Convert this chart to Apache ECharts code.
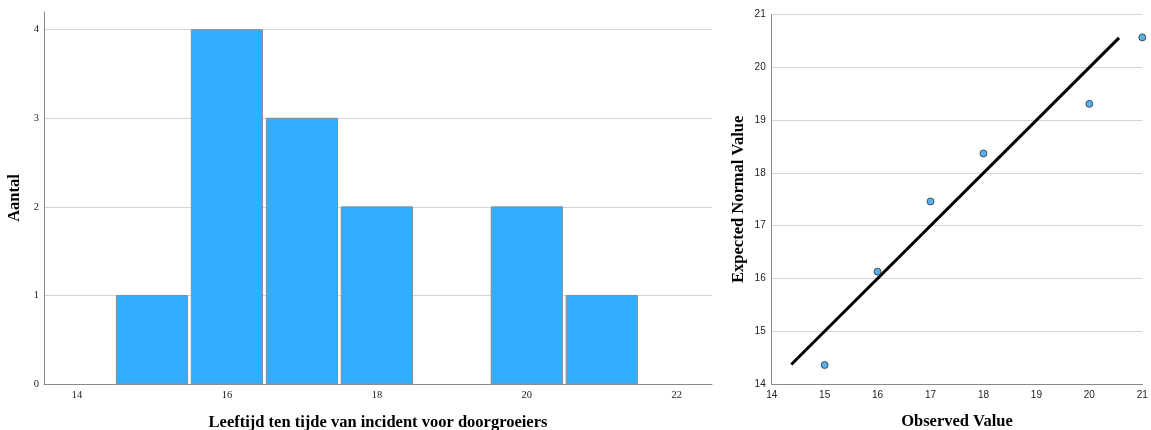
<!DOCTYPE html>
<html><head><meta charset="utf-8">
<script src="https://cdn.jsdelivr.net/npm/echarts@6/dist/echarts.min.js"></script>
<style>html,body{margin:0;padding:0;background:#fff}#c{width:1151px;height:430px}</style>
</head><body><div id="c"></div>
<script>
// Histogram data
const ages = [15, 16, 17, 18, 19, 20, 21];
const counts = [1, 4, 3, 2, 0, 2, 1];
const histXTicks = [14, 16, 18, 20, 22];
// Q-Q plot data
const observed = [15, 16, 17, 18, 20, 21];
const expected = [14.36, 16.13, 17.46, 18.37, 19.31, 20.57];
const refLine = [14.37, 20.56];

const histData = ages.map((a, i) => [a, counts[i]]).filter(d => d[1] > 0);
const qqData = observed.map((o, i) => [o, expected[i]]);

const chart = echarts.init(document.getElementById('c'), null, {renderer: 'canvas'});
const serif = 'Liberation Serif';
const sans = 'Liberation Sans';
const axisGray = '#8a8a8a';
const gridGray = '#d4d4d4';
const titleStyle = {fontFamily: serif, fontWeight: 'bold', fontSize: 16.5, color: '#000'};

chart.setOption({
  animation: false,
  backgroundColor: '#fff',
  grid: [
    {left: 44, top: 12, width: 668, height: 372, outerBoundsMode: 'none', containLabel: false},
    {left: 771.7, top: 14.7, width: 370.6, height: 369.3, outerBoundsMode: 'none', containLabel: false}
  ],
  xAxis: [
    {
      gridIndex: 0, type: 'value', min: 13.56, max: 22.47,
      name: 'Leeftijd ten tijde van incident voor doorgroeiers',
      nameLocation: 'middle', nameGap: 30,
      nameTextStyle: titleStyle,
      axisLine: {lineStyle: {color: axisGray, width: 1}},
      axisTick: {show: false},
      splitLine: {show: false},
      axisLabel: {customValues: histXTicks, fontFamily: serif, fontSize: 10.5, color: '#222', margin: 6}
    },
    {
      gridIndex: 1, type: 'value', min: 14, max: 21, interval: 1,
      name: 'Observed Value',
      nameLocation: 'middle', nameGap: 29,
      nameTextStyle: titleStyle,
      axisLine: {lineStyle: {color: axisGray, width: 1}},
      axisTick: {show: false},
      splitLine: {show: false},
      axisLabel: {fontFamily: sans, fontSize: 10, color: '#222', margin: 6}
    }
  ],
  yAxis: [
    {
      gridIndex: 0, type: 'value', min: 0, max: 4.2, interval: 1,
      name: 'Aantal', nameLocation: 'middle', nameGap: 19, nameRotate: 90,
      nameTextStyle: titleStyle,
      axisLine: {show: true, lineStyle: {color: axisGray, width: 1}},
      axisTick: {show: false},
      splitLine: {show: true, showMaxLine: false, lineStyle: {color: gridGray, width: 1}},
      axisLabel: {showMaxLabel: false, fontFamily: serif, fontSize: 10.5, color: '#222', margin: 5}
    },
    {
      gridIndex: 1, type: 'value', min: 14, max: 21, interval: 1,
      name: 'Expected Normal Value', nameLocation: 'middle', nameGap: 24, nameRotate: 90,
      nameTextStyle: titleStyle,
      axisLine: {show: true, lineStyle: {color: axisGray, width: 1}},
      axisTick: {show: false},
      splitLine: {show: true, lineStyle: {color: gridGray, width: 1}},
      axisLabel: {fontFamily: sans, fontSize: 10, color: '#222', margin: 6}
    }
  ],
  series: [
    {
      type: 'custom', xAxisIndex: 0, yAxisIndex: 0,
      data: histData,
      renderItem: function (params, api) {
        const x = api.value(0), y = api.value(1);
        const p0 = api.coord([x - 0.475, y]);
        const p1 = api.coord([x + 0.475, 0]);
        return {
          type: 'rect',
          shape: {x: p0[0], y: p0[1], width: p1[0] - p0[0], height: p1[1] - p0[1]},
          style: {fill: '#33adff', stroke: '#8c8c8c', lineWidth: 1}
        };
      }
    },
    {
      type: 'line', xAxisIndex: 1, yAxisIndex: 1,
      data: [[refLine[0], refLine[0]], [refLine[1], refLine[1]]],
      symbol: 'none',
      lineStyle: {color: '#000', width: 3},
      z: 2
    },
    {
      type: 'scatter', xAxisIndex: 1, yAxisIndex: 1,
      data: qqData,
      symbol: 'circle', symbolSize: 7,
      itemStyle: {color: '#2a9ce8', borderColor: '#333', borderWidth: 1},
      z: 3
    }
  ]
});
</script></body></html>
